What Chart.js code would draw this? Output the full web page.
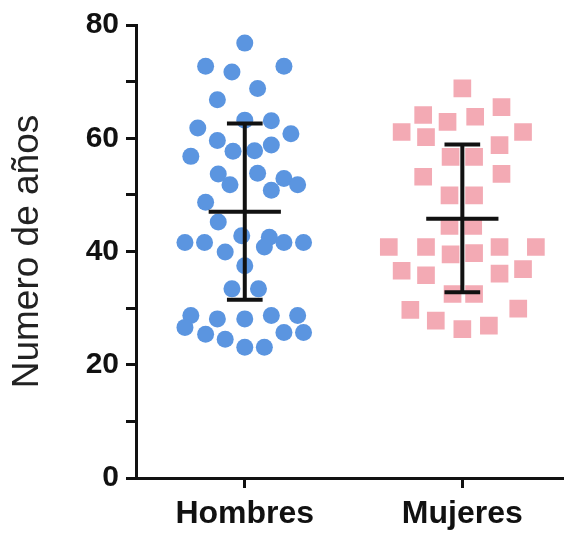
<!DOCTYPE html>
<html>
<head>
<meta charset="utf-8">
<script src="https://cdn.jsdelivr.net/npm/chart.js@4"></script>
<style>
  html, body { margin: 0; padding: 0; background: #fff; }
  #wrap { width: 576px; height: 533px; }
</style>
</head>
<body>
<div id="wrap"><canvas id="chart" width="576" height="533"></canvas></div>
<script>
// --- DATA ---
const categories = ['Hombres', 'Mujeres'];
const yTickLabels = [0, 20, 40, 60, 80];

// Hombres: years and horizontal jitter (in category units)
const hombresValues = [
    76.8, 72.7, 71.7, 72.7, 68.8, 66.8, 61.8, 63.2, 63.1, 59.6,
    60.8, 56.8, 57.7, 57.8, 58.8, 53.7, 53.8, 51.8, 52.9, 51.8,
    50.8, 48.7, 45.2, 41.6, 41.6, 39.9, 42.8, 42.5, 40.8, 41.6,
    41.6, 37.5, 33.4, 33.4, 28.7, 28.1, 28.1, 28.7, 28.7, 26.6,
    25.4, 24.5, 25.7, 25.7, 23.1, 23.1
];
const hombresJitter = [
    0, -0.18, -0.059, 0.18, 0.059, -0.126, -0.216, 0, 0.122, -0.126,
    0.212, -0.248, -0.054, 0.045, 0.122, -0.122, 0.059, -0.068, 0.18, 0.243,
    0.122, -0.18, -0.122, -0.275, -0.185, -0.09, -0.014, 0.113, 0.09, 0.18,
    0.27, 0, -0.059, 0.063, -0.248, -0.126, 0, 0.122, 0.243, -0.275,
    -0.18, -0.09, 0.18, 0.27, 0, 0.09
];

// Mujeres
const mujeresValues = [
    68.8, 65.5, 64.1, 62.9, 63.8, 61.1, 60.2, 61.1, 58.8, 56.7,
    56.7, 53.2, 53.7, 49.9, 49.9, 44.5, 44.5, 40.8, 40.8, 39.5,
    39.7, 40.8, 40.8, 36.6, 35.8, 36.1, 36.9, 32.5, 32.5, 29.7,
    27.8, 26.3, 26.9, 29.9
];
const mujeresJitter = [
    0, 0.18, -0.18, -0.068, 0.059, -0.279, -0.167, 0.279, 0.171, -0.054,
    0.054, -0.18, 0.18, -0.059, 0.054, -0.059, 0.05, -0.338, -0.167, -0.054,
    0.054, 0.171, 0.338, -0.279, -0.167, 0.171, 0.279, -0.045, 0.054, -0.239,
    -0.122, 0, 0.122, 0.257
];

// mean and SD limits
const means = [47.0, 45.8];
const sdUpper = [62.6, 58.9];
const sdLower = [31.5, 32.8];

// --- HELPERS ---
function toPoints(values, jitter, position) {
    return values.map((v, i) => ({ x: position + jitter[i], y: v }));
}

// mean line + SD whiskers, drawn through the chart scales
const errorBarPlugin = {
    id: 'errorBars',
    afterDatasetsDraw(chart) {
        const { ctx, scales: { x, y } } = chart;
        ctx.save();
        ctx.strokeStyle = '#111';
        ctx.lineWidth = 4;
        ctx.lineCap = 'butt';
        categories.forEach((cat, i) => {
            const pos = i + 1;
            const cx = x.getPixelForValue(pos);
            const capL = x.getPixelForValue(pos - 0.082);
            const capR = x.getPixelForValue(pos + 0.082);
            const meanL = x.getPixelForValue(pos - 0.166);
            const meanR = x.getPixelForValue(pos + 0.166);
            const yTop = y.getPixelForValue(sdUpper[i]);
            const yBot = y.getPixelForValue(sdLower[i]);
            const yMean = y.getPixelForValue(means[i]);
            ctx.beginPath();
            ctx.moveTo(cx, yTop); ctx.lineTo(cx, yBot);
            ctx.moveTo(capL, yTop); ctx.lineTo(capR, yTop);
            ctx.moveTo(capL, yBot); ctx.lineTo(capR, yBot);
            ctx.moveTo(meanL, yMean); ctx.lineTo(meanR, yMean);
            ctx.stroke();
        });
        ctx.restore();
    }
};

// --- CHART ---
const fontFamily = '"Liberation Sans", Arial, sans-serif';

new Chart(document.getElementById('chart'), {
    type: 'scatter',
    data: {
        datasets: [
            {
                label: categories[0],
                data: toPoints(hombresValues, hombresJitter, 1),
                backgroundColor: '#5b95e0',
                borderWidth: 0,
                pointStyle: 'circle',
                pointRadius: 8.5,
                pointHoverRadius: 8.5
            },
            {
                label: categories[1],
                data: toPoints(mujeresValues, mujeresJitter, 2),
                backgroundColor: '#f3aab4',
                borderWidth: 0,
                pointStyle: 'rect',
                pointRadius: 12.5,
                pointHoverRadius: 12.5
            }
        ]
    },
    options: {
        responsive: false,
        animation: false,
        devicePixelRatio: 1,
        layout: { padding: { top: 25, right: 0, left: 0, bottom: 0 } },
        plugins: {
            legend: { display: false },
            tooltip: { enabled: false }
        },
        scales: {
            x: {
                type: 'linear',
                min: 0.5,
                max: 2.465,
                afterFit: (scale) => { scale.height = 55; },
                afterBuildTicks: (scale) => {
                    scale.ticks = categories.map((c, i) => ({ value: i + 1 }));
                },
                ticks: {
                    callback: (value) => categories[value - 1] || '',
                    color: '#111',
                    padding: 7,
                    maxRotation: 0,
                    autoSkip: false,
                    font: { family: fontFamily, size: 32, weight: 'bold' }
                },
                grid: {
                    drawOnChartArea: false,
                    drawTicks: true,
                    tickLength: 10,
                    tickWidth: 3,
                    tickColor: '#111'
                },
                border: { display: true, color: '#111', width: 3 }
            },
            y: {
                min: 0,
                max: 80,
                afterFit: (scale) => { scale.width = 136; },
                ticks: {
                    stepSize: 10,
                    callback: (value) => yTickLabels.includes(value) ? value : '',
                    color: '#111',
                    padding: 7,
                    font: { family: fontFamily, size: 30, weight: 'bold' }
                },
                grid: {
                    drawOnChartArea: false,
                    drawTicks: true,
                    tickLength: 10,
                    tickWidth: 3,
                    tickColor: '#111'
                },
                border: { display: true, color: '#111', width: 3 },
                title: {
                    display: true,
                    text: 'Numero de años',
                    color: '#222',
                    padding: { top: 6, bottom: 0 },
                    font: { family: fontFamily, size: 37 }
                }
            }
        }
    },
    plugins: [errorBarPlugin]
});
</script>
</body>
</html>
